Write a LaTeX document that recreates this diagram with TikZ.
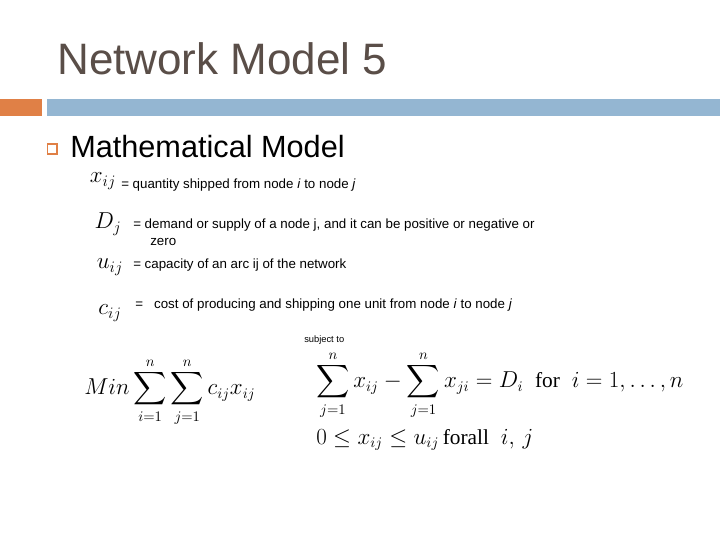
\documentclass[tikz,border=0pt]{standalone}
\usepackage{fontspec}
\setmainfont{Liberation Sans}
\newfontfamily\serifrm{Liberation Serif}
\usepackage{amsmath}
\newcommand{\wrd}[1]{\text{\serifrm #1}}
\begin{document}
\begin{tikzpicture}[x=0.75pt,y=-0.75pt,
  txt/.style={anchor=west,inner sep=0pt,font=\fontsize{10}{12}\selectfont},
  sym/.style={anchor=center,inner sep=0pt,font=\fontsize{17}{20}\selectfont},
  mathbig/.style={anchor=west,inner sep=0pt,font=\fontsize{16}{19}\selectfont}]
\definecolor{titlec}{RGB}{90,78,72}
\definecolor{orangec}{RGB}{224,128,70}
\definecolor{bluec}{RGB}{148,182,210}
\useasboundingbox (0,0) rectangle (720,540);
\fill[white] (0,0) rectangle (720,540);
\node[anchor=base west,inner sep=0pt,text=titlec,font=\fontsize{33}{38}\selectfont] (title) at (57,74) {Network Model 5};
\fill[orangec] (0,99) rectangle (42,116);
\fill[bluec] (47,99) rectangle (720,116);
\draw[orangec,line width=1pt] (47.5,144) rectangle (57,154);
\node[anchor=base west,inner sep=0pt,font=\fontsize{23}{28}\selectfont] (head) at (70,157) {Mathematical Model};
\node[sym] (x) at (103,181) {$x_{ij}$};
\node[txt] (xt) at (121,185) {= quantity shipped from node \textit{i} to node \textit{j}};
\node[sym] (D) at (108,224) {$D_j$};
\node[txt] (Dt) at (133,225) {= demand or supply of a node j, and it can be positive or negative or};
\node[txt] (Dt2) at (150,242) {zero};
\node[sym] (u) at (110,267) {$u_{ij}$};
\node[txt] (ut) at (133,265) {= capacity of an arc ij of the network};
\node[sym] (c) at (110,313) {$c_{ij}$};
\node[txt] (ct) at (135,305) {=\ \ \ cost of producing and shipping one unit from node \textit{i} to node \textit{j}};
\node[anchor=west,inner sep=0pt,font=\fontsize{7}{8}\selectfont] (st) at (304,340) {subject to};
\node[mathbig] (obj) at (84,392) {$\displaystyle Min\sum_{i=1}^{n}\sum_{j=1}^{n}c_{ij}x_{ij}$};
\node[mathbig] (con1) at (316,385) {$\displaystyle \sum_{j=1}^{n}x_{ij}-\sum_{j=1}^{n}x_{ji}=D_i\ \ \wrd{for}\ \ i=1,\ldots,n$};
\node[mathbig] (con2) at (316,440) {$0\le x_{ij}\le u_{ij}\,\wrd{forall}\ \ i,\,j$};
\end{tikzpicture}
\end{document}
